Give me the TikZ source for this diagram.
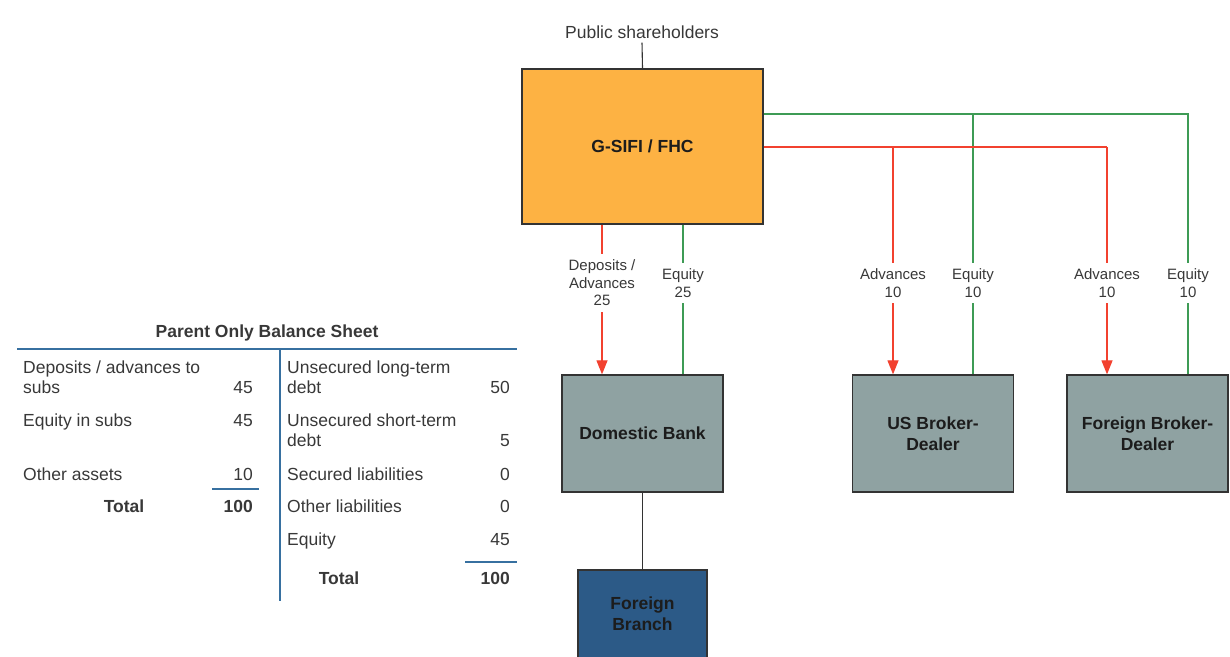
\documentclass[tikz,border=0pt]{standalone}
\usepackage{fontspec}
\setmainfont{Liberation Sans}
\usetikzlibrary{arrows.meta}

\definecolor{holdco}{HTML}{FDB243}
\definecolor{subsid}{HTML}{8FA2A2}
\definecolor{branchblue}{HTML}{2C5A87}
\definecolor{flowred}{HTML}{F2412F}
\definecolor{flowgreen}{HTML}{3E9B55}
\definecolor{rulecol}{HTML}{3770A0}
\definecolor{ink}{HTML}{383838}
\definecolor{boxink}{HTML}{1C1C1C}
\definecolor{edge}{HTML}{333333}

\tikzset{
  entity/.style={draw=edge, line width=1.3pt, font=\fontsize{17.5}{21}\selectfont\bfseries,
    text=boxink, align=center, inner sep=0pt},
  holdbox/.style={entity, fill=holdco, minimum width=241pt, minimum height=155pt},
  subbox/.style={entity, fill=subsid, minimum width=161pt, minimum height=117pt},
  flowlab/.style={fill=white, font=\fontsize{15}{17.5}\selectfont, text=ink, align=center,
    inner xsep=1pt, inner ysep=6pt},
  advance/.style={draw=flowred, line width=1.2pt, -{Triangle[length=14pt,width=11pt]}},
  equityline/.style={draw=flowgreen, line width=1.2pt},
  tie/.style={draw=edge, line width=1.1pt},
  bstext/.style={font=\fontsize{17.5}{21}\selectfont, text=ink, anchor=base west, inner sep=0pt},
  bsnum/.style={font=\fontsize{17.5}{21}\selectfont, text=ink, anchor=base east, inner sep=0pt},
  bstotal/.style={font=\fontsize{17.5}{21}\selectfont\bfseries, text=ink, anchor=base, inner sep=0pt},
  bsrule/.style={draw=rulecol, line width=1.5pt},
}

\begin{document}
\begin{tikzpicture}[x=1pt,y=-1pt]
\useasboundingbox (0,0) rectangle (1230,656);

% ---------- ownership structure ----------
\node[font=\fontsize{17.5}{21}\selectfont, text=ink, inner sep=1pt] (public) at (642,32) {Public shareholders};
\node[holdbox] (gsifi) at (642.5,146.5) {G-SIFI / FHC};

\node[subbox] (dombank) at (642.5,433.5) {Domestic Bank};
\node[subbox] (usbd) at (933,433.5) {US Broker-\\Dealer};
\node[subbox] (fbd) at (1147.5,433.5) {Foreign Broker-\\Dealer};
\node[entity, fill=branchblue, minimum width=129pt, minimum height=88pt] (branch) at (642.5,614) {Foreign\\Branch};

\draw[tie] (public.south) ++(0,3) -- (gsifi.north);
\draw[tie] (dombank.south) -- (branch.north);

% junctions on the horizontal feeders
\coordinate (gUS) at (973,114);
\coordinate (gFO) at (1188,114);
\coordinate (rUS) at (893,147);
\coordinate (rFO) at (1107,147);
\coordinate (rDB) at (602,0);
\coordinate (gDB) at (683,0);

% equity (green) and advances (red) feeders
\draw[equityline] (gsifi.east |- gFO) -- (gFO) -- (fbd.north -| gFO);
\draw[equityline] (gUS) -- (usbd.north -| gUS);
\draw[flowred, line width=1.2pt] (gsifi.east |- rFO) -- (rFO);
\draw[advance] (rFO) -- (fbd.north -| rFO);
\draw[advance] (rUS) -- (usbd.north -| rUS);
\draw[advance] (gsifi.south -| rDB) -- (dombank.north -| rDB);
\draw[equityline] (gsifi.south -| gDB) -- (dombank.north -| gDB);

% flow labels
\node[flowlab] (lblDBadv) at (602,283) {Deposits /\\Advances\\25};
\node[flowlab] (lblDBeq) at (683,283) {Equity\\25};
\node[flowlab] (lblUSadv) at (893,283) {Advances\\10};
\node[flowlab] (lblUSeq) at (973,283) {Equity\\10};
\node[flowlab] (lblFOadv) at (1107,283) {Advances\\10};
\node[flowlab] (lblFOeq) at (1188,283) {Equity\\10};

% ---------- parent-only balance sheet ----------
\node[font=\fontsize{17.5}{21}\selectfont\bfseries, text=ink, inner sep=0pt] (bstitle) at (267,333) {Parent Only Balance Sheet};
\coordinate (hl) at (17,349);
\coordinate (hr) at (517,349);
\coordinate (vt) at (280,349);
\coordinate (vb) at (280,601);
\draw[bsrule] (hl) -- (hr);
\draw[bsrule] (vt) -- (vb);

% assets
\node[bstext] (a1) at (23,373) {Deposits / advances to};
\node[bstext] (a1b) at (23,393) {subs};
\node[bsnum] (a1n) at (253,393) {45};
\node[bstext] (a2) at (23,426) {Equity in subs};
\node[bsnum] (a2n) at (253,426) {45};
\node[bstext] (a3) at (23,480) {Other assets};
\node[bsnum] (a3n) at (253,480) {10};
\coordinate (au1) at (212,489);
\coordinate (au2) at (259,489);
\draw[bsrule] (au1) -- (au2);
\node[bstotal] (at) at (124,512) {Total};
\node[bsnum, font=\fontsize{17.5}{21}\selectfont\bfseries] (atn) at (253,512) {100};

% liabilities and equity
\node[bstext] (l1) at (287,373) {Unsecured long-term};
\node[bstext] (l1b) at (287,393) {debt};
\node[bsnum] (l1n) at (510,393) {50};
\node[bstext] (l2) at (287,426) {Unsecured short-term};
\node[bstext] (l2b) at (287,446) {debt};
\node[bsnum] (l2n) at (510,446) {5};
\node[bstext] (l3) at (287,480) {Secured liabilities};
\node[bsnum] (l3n) at (510,480) {0};
\node[bstext] (l4) at (287,512) {Other liabilities};
\node[bsnum] (l4n) at (510,512) {0};
\node[bstext] (l5) at (287,545) {Equity};
\node[bsnum] (l5n) at (510,545) {45};
\coordinate (lu1) at (465,562);
\coordinate (lu2) at (517,562);
\draw[bsrule] (lu1) -- (lu2);
\node[bstotal] (lt) at (339,584) {Total};
\node[bsnum, font=\fontsize{17.5}{21}\selectfont\bfseries] (ltn) at (510,584) {100};
\end{tikzpicture}
\end{document}
